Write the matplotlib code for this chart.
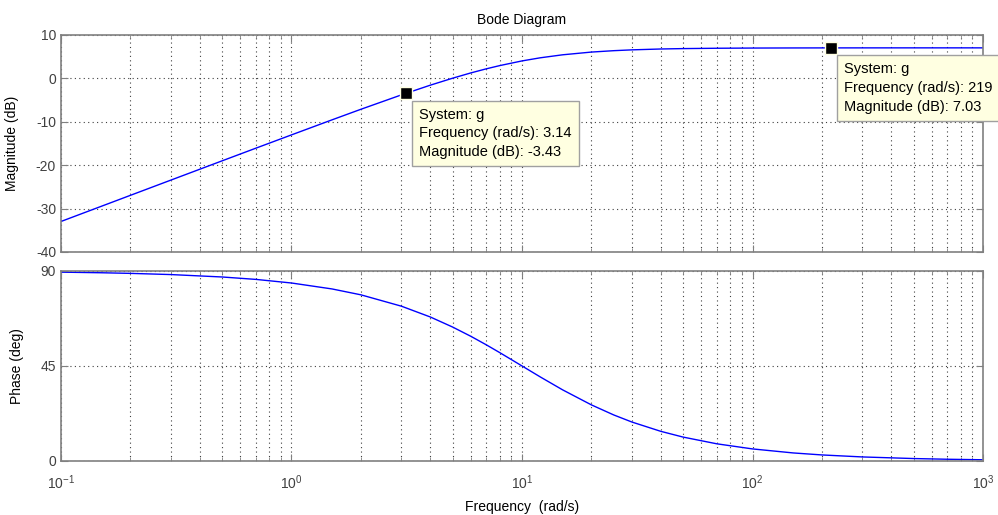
#!/usr/bin/env python3
"""Bode diagram of system g with two data tips (MATLAB look)."""
import numpy as np
import matplotlib
matplotlib.use("Agg")
import matplotlib.pyplot as plt
from matplotlib.ticker import LogLocator, NullFormatter, FixedLocator

# ---------------------------------------------------------------- data
freq = [0.1, 0.15, 0.2, 0.3, 0.5, 0.7, 1, 1.5, 2, 3, 4, 5, 6, 7, 8, 10,
        12, 15, 20, 25, 30, 40, 50, 70, 100, 150, 200, 300, 500, 700, 1000]
mag_db = [-32.97, -29.45, -26.95, -23.43, -19.00, -16.09, -13.02, -9.55,
          -7.12, -3.80, -1.57, 0.04, 1.26, 2.20, 2.94, 4.02, 4.74, 5.43,
          6.06, 6.38, 6.57, 6.77, 6.86, 6.94, 6.985, 7.01, 7.02, 7.026,
          7.03, 7.03, 7.03]
phase_deg = [89.43, 89.14, 88.85, 88.28, 87.14, 86.00, 84.29, 81.47, 78.69,
             73.30, 68.20, 63.43, 59.04, 55.01, 51.34, 45.0, 39.81, 33.69,
             26.57, 21.80, 18.43, 14.04, 11.31, 8.13, 5.71, 3.81, 2.86,
             1.91, 1.15, 0.82, 0.57]

tip_freq = [3.14, 219]
tip_mag = [-3.43, 7.03]

mag_ticks = [10, 0, -10, -20, -30, -40]
phase_ticks = [0, 45, 90]

# ---------------------------------------------------------------- style
plt.rcParams['font.family'] = ['Liberation Sans', 'DejaVu Sans']
plt.rcParams['font.size'] = 8.5
plt.rcParams['axes.unicode_minus'] = False
AX_COL = '#808080'
TXT_COL = '#404040'

fig = plt.figure(figsize=(9.98, 5.15), dpi=100)
ax1 = fig.add_axes([0.0611, 0.5107, 0.9239, 0.4214])
ax2 = fig.add_axes([0.0611, 0.1049, 0.9239, 0.3690])


def style(ax):
    ax.set_xscale('log')
    ax.set_xlim(0.1, 1000)
    for s in ax.spines.values():
        s.set_color(AX_COL)
        s.set_linewidth(1.2)
    ax.tick_params(which='both', direction='in', top=True, right=True,
                   colors=AX_COL, labelcolor=TXT_COL, labelsize=10)
    ax.tick_params(which='major', length=5)
    ax.tick_params(which='minor', length=3)
    ax.tick_params(axis='x', which='major', pad=9)
    ax.xaxis.set_minor_locator(LogLocator(base=10, subs=np.arange(2, 10)))
    ax.xaxis.set_minor_formatter(NullFormatter())
    ax.grid(True, which='major', linestyle=(0, (1, 3)), color='#404040',
            linewidth=0.8)
    ax.grid(True, which='minor', axis='x', linestyle=(0, (1, 3)),
            color='#404040', linewidth=0.8)


# magnitude
ax1.plot(freq, mag_db, color='#0000ff', linewidth=1.0)
style(ax1)
ax1.set_ylim(-40, 10)
ax1.yaxis.set_major_locator(FixedLocator(mag_ticks))
ax1.tick_params(axis='x', which='both', labelbottom=False)
ax1.set_ylabel('Magnitude (dB)', fontsize=10, color='black')
ax1.yaxis.set_label_coords(-0.046, 0.5)
ax1.set_title('Bode Diagram', fontsize=10, color='black', pad=8)

# phase
ax2.plot(freq, phase_deg, color='#0000ff', linewidth=1.0)
style(ax2)
ax2.set_ylim(0, 90)
ax2.yaxis.set_major_locator(FixedLocator(phase_ticks))
ax2.set_ylabel('Phase (deg)', fontsize=10, color='black')
ax2.yaxis.set_label_coords(-0.040, 0.5)
ax2.set_xlabel('Frequency  (rad/s)', fontsize=10, color='black', labelpad=6)

# data tips
ax1.plot(tip_freq, tip_mag, linestyle='none', marker='s', markersize=8,
         markerfacecolor='black', markeredgecolor='#ffffe1',
         markeredgewidth=1.0, zorder=5, clip_on=False)
for f, m in zip(tip_freq, tip_mag):
    txt = 'System: g\nFrequency (rad/s): %g\nMagnitude (dB): %.2f' % (f, m)
    ax1.annotate(txt, xy=(f, m), xytext=(9.5, -10.5),
                 textcoords='offset points',
                 ha='left', va='top', fontsize=10.5, color='black',
                 linespacing=1.42, annotation_clip=False, zorder=6,
                 bbox=dict(boxstyle='square,pad=0.5', facecolor='#ffffe1',
                           edgecolor='#a0a0a0', linewidth=1.0))

fig.savefig('out.png', dpi=100)
